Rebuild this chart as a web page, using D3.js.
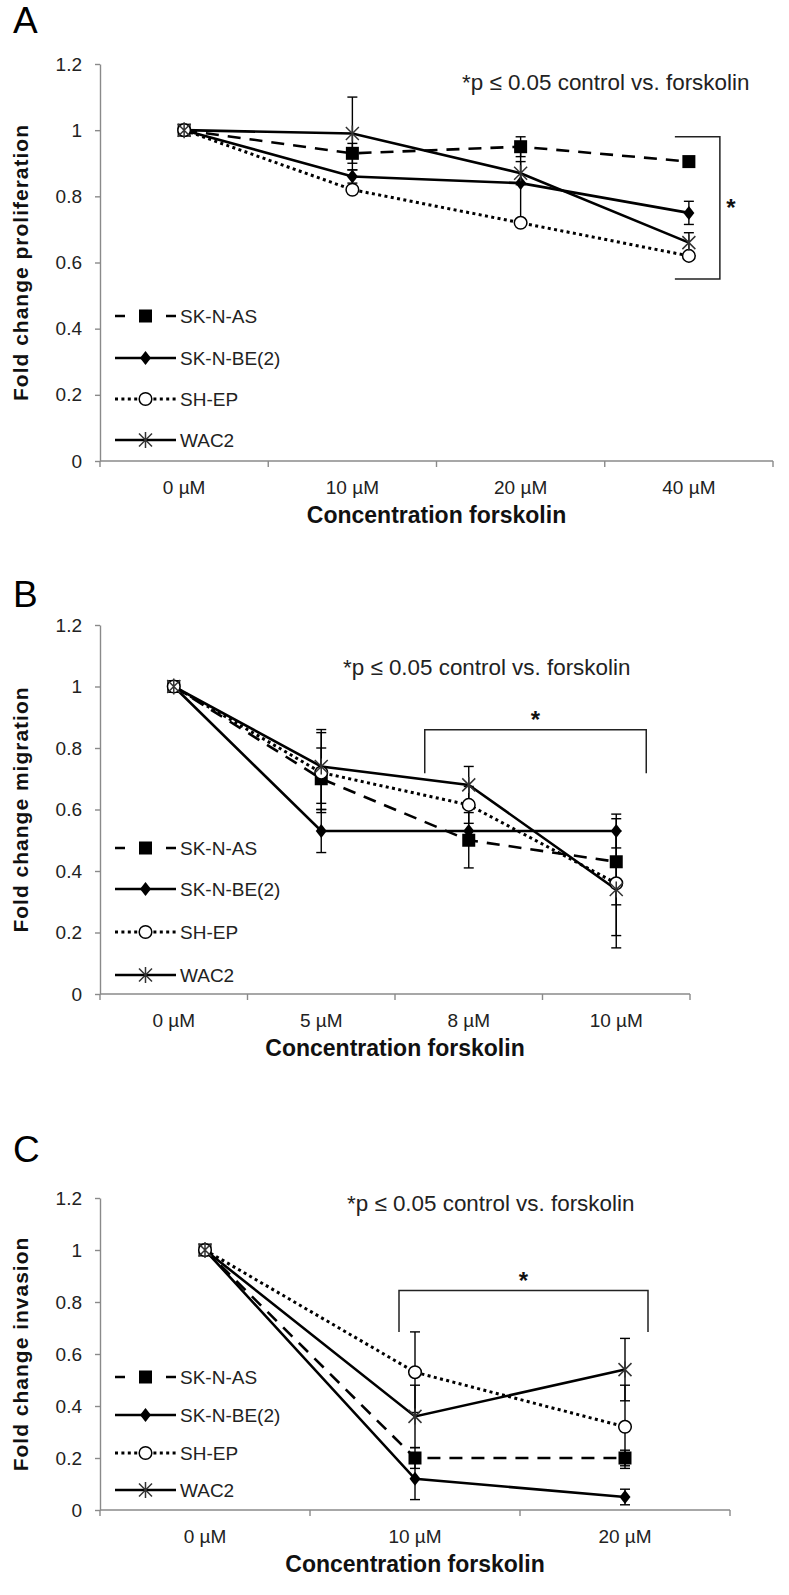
<!DOCTYPE html>
<html><head><meta charset="utf-8">
<script src="https://cdn.jsdelivr.net/npm/d3@7"></script>
<style>
body{margin:0;background:#fff}
svg{display:block}
text{font-family:"Liberation Sans",Arial,sans-serif}
</style>
</head><body>
<svg id="chart" width="789" height="1595"></svg>
<script>
// ---------- data ----------
const seriesNames = ["SK-N-AS", "SK-N-BE(2)", "SH-EP", "WAC2"];
const yTicks = [0, 0.2, 0.4, 0.6, 0.8, 1, 1.2];
const noteText = "*p \u2264 0.05 control vs. forskolin";
const xTitle = "Concentration forskolin";

// Panel A – proliferation
const catsA = ["0 \u00b5M", "10 \u00b5M", "20 \u00b5M", "40 \u00b5M"];
const sknasA  = [1.00, 0.93, 0.95, 0.905];
const sknbe2A = [1.00, 0.86, 0.84, 0.75];
const shepA   = [1.00, 0.82, 0.72, 0.62];
const wac2A   = [1.00, 0.99, 0.87, 0.66];
const errSknasA  = [0, 0.03, 0.03, 0];
const errSknbe2A = [0, 0.02, 0.12, 0.035];
const errShepA   = [0, 0, 0, 0];
const errWac2A   = [0, 0.11, 0.035, 0.03];

// Panel B – migration
const catsB = ["0 \u00b5M", "5 \u00b5M", "8 \u00b5M", "10 \u00b5M"];
const sknasB  = [1.00, 0.70, 0.50, 0.43];
const sknbe2B = [1.00, 0.53, 0.53, 0.53];
const shepB   = [1.00, 0.72, 0.615, 0.36];
const wac2B   = [1.00, 0.74, 0.68, 0.34];
const errSknasB  = [0, 0.10, 0.09, 0.14];
const errSknbe2B = [0, 0.07, 0, 0.055];
const errShepB   = [0, 0.13, 0.06, 0.17];
const errWac2B   = [0, 0.12, 0.06, 0.19];

// Panel C – invasion
const catsC = ["0 \u00b5M", "10 \u00b5M", "20 \u00b5M"];
const sknasC  = [1.00, 0.20, 0.20];
const sknbe2C = [1.00, 0.12, 0.05];
const shepC   = [1.00, 0.53, 0.32];
const wac2C   = [1.00, 0.36, 0.54];
const errSknasC  = [0, 0.04, 0.03];
const errSknbe2C = [0, 0.08, 0.03];
const errShepC   = [0, 0.155, 0.16];
const errWac2C   = [0, 0.12, 0.12];

// ---------- layout / style ----------
const styles = [
  {marker: "square",  dash: "13,9",  width: 2.6},
  {marker: "diamond", dash: null,    width: 2.6},
  {marker: "circle",  dash: "3,3.4", width: 3},
  {marker: "star",    dash: null,    width: 2.6}
];
const panels = [
  {letter: "A", letterY: 33, top: 64, bottom: 461, xEnd: 773, cats: catsA,
   vals: [sknasA, sknbe2A, shepA, wac2A], errs: [errSknasA, errSknbe2A, errShepA, errWac2A],
   yTitle: "Fold change proliferation", noteX: 462, noteY: 82,
   legendY: [316, 358, 399, 440],
   bracket: {kind: "v", cat: 3, dx: 31, lo: 0.55, hi: 0.98, arm: 45}},
  {letter: "B", letterY: 607, top: 625, bottom: 994, xEnd: 690, cats: catsB,
   vals: [sknasB, sknbe2B, shepB, wac2B], errs: [errSknasB, errSknbe2B, errShepB, errWac2B],
   yTitle: "Fold change migration", noteX: 343, noteY: 667,
   legendY: [848, 889, 932, 975],
   bracket: {kind: "h", from: 2, fromDx: -44, to: 3, toDx: 30, hi: 0.859, lo: 0.718}},
  {letter: "C", letterY: 1162, top: 1198, bottom: 1510, xEnd: 730, cats: catsC,
   vals: [sknasC, sknbe2C, shepC, wac2C], errs: [errSknasC, errSknbe2C, errShepC, errWac2C],
   yTitle: "Fold change invasion", noteX: 347, noteY: 1203,
   legendY: [1377, 1415, 1453, 1490],
   bracket: {kind: "h", from: 1, fromDx: -16, to: 2, toDx: 23, hi: 0.844, lo: 0.685}}
];

const svg = d3.select("#chart");
const axisColor = "#8a8a8a";
const LEFT = 100;

function drawMarker(g, type, cx, cy) {
  if (type === "square") {
    g.append("rect").attr("x", cx - 6.5).attr("y", cy - 6.5).attr("width", 13).attr("height", 13).attr("fill", "#000");
  } else if (type === "diamond") {
    g.append("path").attr("d", `M${cx},${cy-7}L${cx+5.5},${cy}L${cx},${cy+7}L${cx-5.5},${cy}Z`).attr("fill", "#000");
  } else if (type === "circle") {
    g.append("circle").attr("cx", cx).attr("cy", cy).attr("r", 6.3).attr("fill", "#fff").attr("stroke", "#000").attr("stroke-width", 1.5);
  } else {
    g.append("path").attr("d", `M${cx-6.5},${cy-6.5}L${cx+6.5},${cy+6.5}M${cx-6.5},${cy+6.5}L${cx+6.5},${cy-6.5}M${cx},${cy-8}L${cx},${cy+8}`)
      .attr("stroke", "#333").attr("stroke-width", 1.5).attr("fill", "none");
  }
}

panels.forEach(p => {
  const g = svg.append("g");
  const x = d3.scaleBand().domain(p.cats).range([LEFT, p.xEnd]).padding(0);
  const cx = i => x(p.cats[i]) + x.bandwidth() / 2;
  const y = d3.scaleLinear().domain([0, 1.2]).range([p.bottom, p.top]);

  // panel letter
  g.append("text").attr("x", 13).attr("y", p.letterY).attr("font-size", 37).attr("fill", "#000").text(p.letter);

  // y axis
  const ya = g.append("g").attr("transform", `translate(${LEFT},0)`)
    .call(d3.axisLeft(y).tickValues(yTicks).tickFormat(d3.format("~g")).tickSize(5).tickSizeOuter(0).tickPadding(13));
  ya.select(".domain").attr("stroke", axisColor).attr("stroke-width", 1.4);
  ya.selectAll(".tick line").attr("stroke", axisColor).attr("stroke-width", 1.4);
  ya.selectAll(".tick text").attr("font-size", 19).attr("fill", "#222").attr("font-family", '"Liberation Sans",Arial,sans-serif');

  // x axis (category axis, ticks between categories)
  const xa = g.append("g").attr("transform", `translate(0,${p.bottom})`)
    .call(d3.axisBottom(x).tickSize(0).tickSizeOuter(0).tickPadding(20));
  xa.select(".domain").remove();
  xa.selectAll(".tick text").attr("font-size", 19).attr("fill", "#222").attr("font-family", '"Liberation Sans",Arial,sans-serif');
  g.append("line").attr("x1", LEFT).attr("x2", p.xEnd).attr("y1", p.bottom).attr("y2", p.bottom)
    .attr("stroke", axisColor).attr("stroke-width", 1.4);
  const bounds = p.cats.map(c => x(c)).concat([p.xEnd]);
  g.selectAll("line.xt").data(bounds).join("line").attr("class", "xt")
    .attr("x1", d => d).attr("x2", d => d).attr("y1", p.bottom).attr("y2", p.bottom + 6)
    .attr("stroke", axisColor).attr("stroke-width", 1.4);

  // axis titles
  g.append("text").attr("x", (LEFT + p.xEnd) / 2).attr("y", p.bottom + 62).attr("text-anchor", "middle")
    .attr("font-size", 23).attr("font-weight", "bold").attr("fill", "#111").text(xTitle);
  g.append("text").attr("transform", `translate(20,${(p.top + p.bottom) / 2}) rotate(-90)`)
    .attr("text-anchor", "middle").attr("dy", "0.36em").attr("font-size", 21).attr("font-weight", "bold")
    .attr("letter-spacing", 1).attr("fill", "#111").text(p.yTitle);

  // note
  g.append("text").attr("x", p.noteX).attr("y", p.noteY).attr("dy", "0.35em").attr("font-size", 22.4)
    .attr("fill", "#222").text(noteText);

  // series lines
  const line = d3.line().x((d, i) => cx(i)).y(d => y(d));
  p.vals.forEach((v, s) => {
    g.append("path").datum(v).attr("d", line).attr("fill", "none").attr("stroke", "#000")
      .attr("stroke-width", styles[s].width).attr("stroke-dasharray", styles[s].dash);
  });
  // error bars
  p.vals.forEach((v, s) => {
    v.forEach((val, i) => {
      const e = p.errs[s][i];
      if (!e) return;
      const xx = cx(i);
      g.append("line").attr("x1", xx).attr("x2", xx).attr("y1", y(val - e)).attr("y2", y(val + e)).attr("stroke", "#000").attr("stroke-width", 1.4);
      [val - e, val + e].forEach(t => g.append("line").attr("x1", xx - 5).attr("x2", xx + 5).attr("y1", y(t)).attr("y2", y(t)).attr("stroke", "#000").attr("stroke-width", 1.4));
    });
  });
  // markers
  p.vals.forEach((v, s) => v.forEach((val, i) => drawMarker(g, styles[s].marker, cx(i), y(val))));

  // legend
  seriesNames.forEach((name, s) => {
    const ly = p.legendY[s];
    const st = styles[s];
    let dash = st.dash;
    if (st.marker === "square") dash = "10,15.5";
    g.append("line").attr("x1", 115).attr("x2", 176).attr("y1", ly).attr("y2", ly).attr("stroke", "#000")
      .attr("stroke-width", st.width).attr("stroke-dasharray", dash);
    drawMarker(g, st.marker, 145.5, ly);
    g.append("text").attr("x", 180).attr("y", ly).attr("dy", "0.36em").attr("font-size", 19).attr("fill", "#222").text(name);
  });

  // significance bracket
  const b = p.bracket;
  if (b.kind === "v") {
    const bx = cx(b.cat) + b.dx;
    g.append("path").attr("d", `M${bx - b.arm},${y(b.hi)}H${bx}V${y(b.lo)}H${bx - b.arm}`).attr("stroke", "#222").attr("stroke-width", 1.5).attr("fill", "none");
    g.append("text").attr("x", bx + 11).attr("y", (y(b.hi) + y(b.lo)) / 2 + 8).attr("text-anchor", "middle")
      .attr("font-size", 24).attr("font-weight", "bold").attr("fill", "#111").text("*");
  } else {
    const x0 = cx(b.from) + b.fromDx, x1 = cx(b.to) + b.toDx;
    g.append("path").attr("d", `M${x0},${y(b.lo)}V${y(b.hi)}H${x1}V${y(b.lo)}`).attr("stroke", "#222").attr("stroke-width", 1.5).attr("fill", "none");
    g.append("text").attr("x", (x0 + x1) / 2).attr("y", y(b.hi) - 2).attr("text-anchor", "middle")
      .attr("font-size", 24).attr("font-weight", "bold").attr("fill", "#111").text("*");
  }
});
</script>
</body></html>
